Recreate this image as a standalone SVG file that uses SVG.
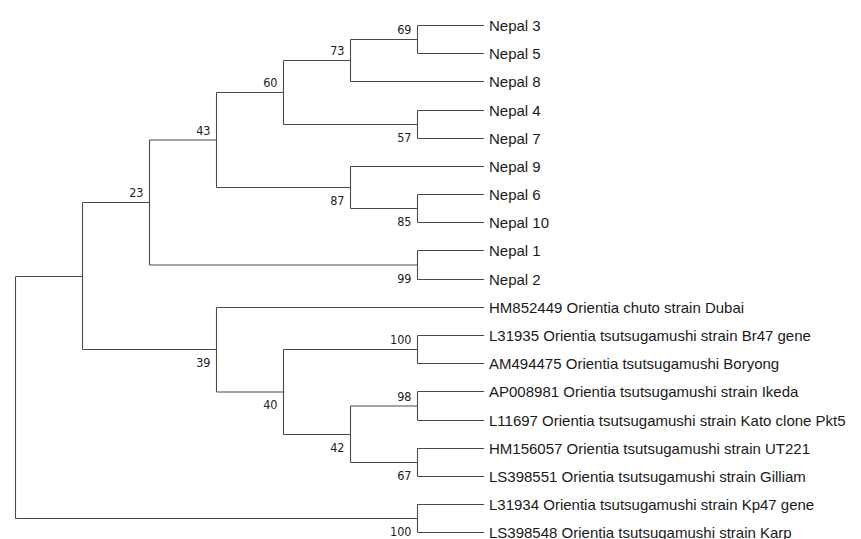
<svg xmlns="http://www.w3.org/2000/svg" width="861" height="539" viewBox="0 0 861 539">
<style>
.br{fill:none;stroke:#4a4a4a;stroke-width:1.1}
.leaf{font-family:"Liberation Sans",Arial,sans-serif;font-size:15px;fill:#1a1a1a}
.bs{font-family:"DejaVu Sans Condensed","DejaVu Sans",sans-serif;font-size:12.5px;fill:#222;text-anchor:end}
</style>
<rect width="861" height="539" fill="#fff"/>
<g id="connectors" class="br">
<path d="M417.5,25.5V53.5M417.5,25.5H484M417.5,53.5H484"/>
<path d="M350.5,39.5V81.5M350.5,39.5H417.5M350.5,81.5H484"/>
<path d="M417.5,110.5V138.5M417.5,110.5H484M417.5,138.5H484"/>
<path d="M283.5,60.5V124.5M283.5,60.5H350.5M283.5,124.5H417.5"/>
<path d="M417.5,194.5V222.5M417.5,194.5H484M417.5,222.5H484"/>
<path d="M350.5,166.5V208.5M350.5,166.5H484M350.5,208.5H417.5"/>
<path d="M216.5,92.5V187.5M216.5,92.5H283.5M216.5,187.5H350.5"/>
<path d="M417.5,250.5V279.5M417.5,250.5H484M417.5,279.5H484"/>
<path d="M149.5,140V265M149.5,140H216.5M149.5,265H417.5"/>
<path d="M417.5,335.5V363.5M417.5,335.5H484M417.5,363.5H484"/>
<path d="M417.5,391.5V420.5M417.5,391.5H484M417.5,420.5H484"/>
<path d="M417.5,448.5V476.5M417.5,448.5H484M417.5,476.5H484"/>
<path d="M350.5,406V462.5M350.5,406H417.5M350.5,462.5H417.5"/>
<path d="M283.5,349.5V434.5M283.5,349.5H417.5M283.5,434.5H350.5"/>
<path d="M216.5,307.5V392M216.5,307.5H484M216.5,392H283.5"/>
<path d="M82.5,202.5V349.5M82.5,202.5H149.5M82.5,349.5H216.5"/>
<path d="M417.5,504.5V532.5M417.5,504.5H484M417.5,532.5H484"/>
<path d="M15.5,276.5V518.5M15.5,276.5H82.5M15.5,518.5H417.5"/>
</g>
<g id="leaf-nepal3"><text class="leaf" x="489" y="30.5">Nepal 3</text></g>
<g id="leaf-nepal5"><text class="leaf" x="489" y="58.5">Nepal 5</text></g>
<g id="leaf-nepal8"><text class="leaf" x="489" y="86.5">Nepal 8</text></g>
<g id="leaf-nepal4"><text class="leaf" x="489" y="115.5">Nepal 4</text></g>
<g id="leaf-nepal7"><text class="leaf" x="489" y="143.5">Nepal 7</text></g>
<g id="leaf-nepal9"><text class="leaf" x="489" y="171.5">Nepal 9</text></g>
<g id="leaf-nepal6"><text class="leaf" x="489" y="199.5">Nepal 6</text></g>
<g id="leaf-nepal10"><text class="leaf" x="489" y="227.5">Nepal 10</text></g>
<g id="leaf-nepal1"><text class="leaf" x="489" y="255.5">Nepal 1</text></g>
<g id="leaf-nepal2"><text class="leaf" x="489" y="284.5">Nepal 2</text></g>
<g id="leaf-hm852449"><text class="leaf" x="489" y="312.5">HM852449 Orientia chuto strain Dubai</text></g>
<g id="leaf-l31935"><text class="leaf" x="489" y="340.5">L31935 Orientia tsutsugamushi strain Br47 gene</text></g>
<g id="leaf-am494475"><text class="leaf" x="489" y="368.5">AM494475 Orientia tsutsugamushi Boryong</text></g>
<g id="leaf-ap008981"><text class="leaf" x="489" y="396.5">AP008981 Orientia tsutsugamushi strain Ikeda</text></g>
<g id="leaf-l11697"><text class="leaf" x="489" y="425.5">L11697 Orientia tsutsugamushi strain Kato clone Pkt5</text></g>
<g id="leaf-hm156057"><text class="leaf" x="489" y="453.5">HM156057 Orientia tsutsugamushi strain UT221</text></g>
<g id="leaf-ls398551"><text class="leaf" x="489" y="481.5">LS398551 Orientia tsutsugamushi strain Gilliam</text></g>
<g id="leaf-l31934"><text class="leaf" x="489" y="509.5">L31934 Orientia tsutsugamushi strain Kp47 gene</text></g>
<g id="leaf-ls398548"><text class="leaf" x="489" y="537.5">LS398548 Orientia tsutsugamushi strain Karp</text></g>
<g id="node-69"><text class="bs" x="411.5" y="34">69</text></g>
<g id="node-73"><text class="bs" x="344.5" y="55">73</text></g>
<g id="node-60"><text class="bs" x="277.5" y="87">60</text></g>
<g id="node-43"><text class="bs" x="210.5" y="134.5">43</text></g>
<g id="node-57"><text class="bs" x="411.5" y="141.5">57</text></g>
<g id="node-87"><text class="bs" x="344.5" y="205">87</text></g>
<g id="node-85"><text class="bs" x="411.5" y="226">85</text></g>
<g id="node-99"><text class="bs" x="411.5" y="282.5">99</text></g>
<g id="node-23"><text class="bs" x="143.5" y="197">23</text></g>
<g id="node-100a"><text class="bs" x="411.5" y="344">100</text></g>
<g id="node-39"><text class="bs" x="210.5" y="366.5">39</text></g>
<g id="node-40"><text class="bs" x="277.5" y="409">40</text></g>
<g id="node-98"><text class="bs" x="411.5" y="400.5">98</text></g>
<g id="node-42"><text class="bs" x="344.5" y="451.5">42</text></g>
<g id="node-67"><text class="bs" x="411.5" y="479.5">67</text></g>
<g id="node-100b"><text class="bs" x="411.5" y="536">100</text></g>
</svg>
